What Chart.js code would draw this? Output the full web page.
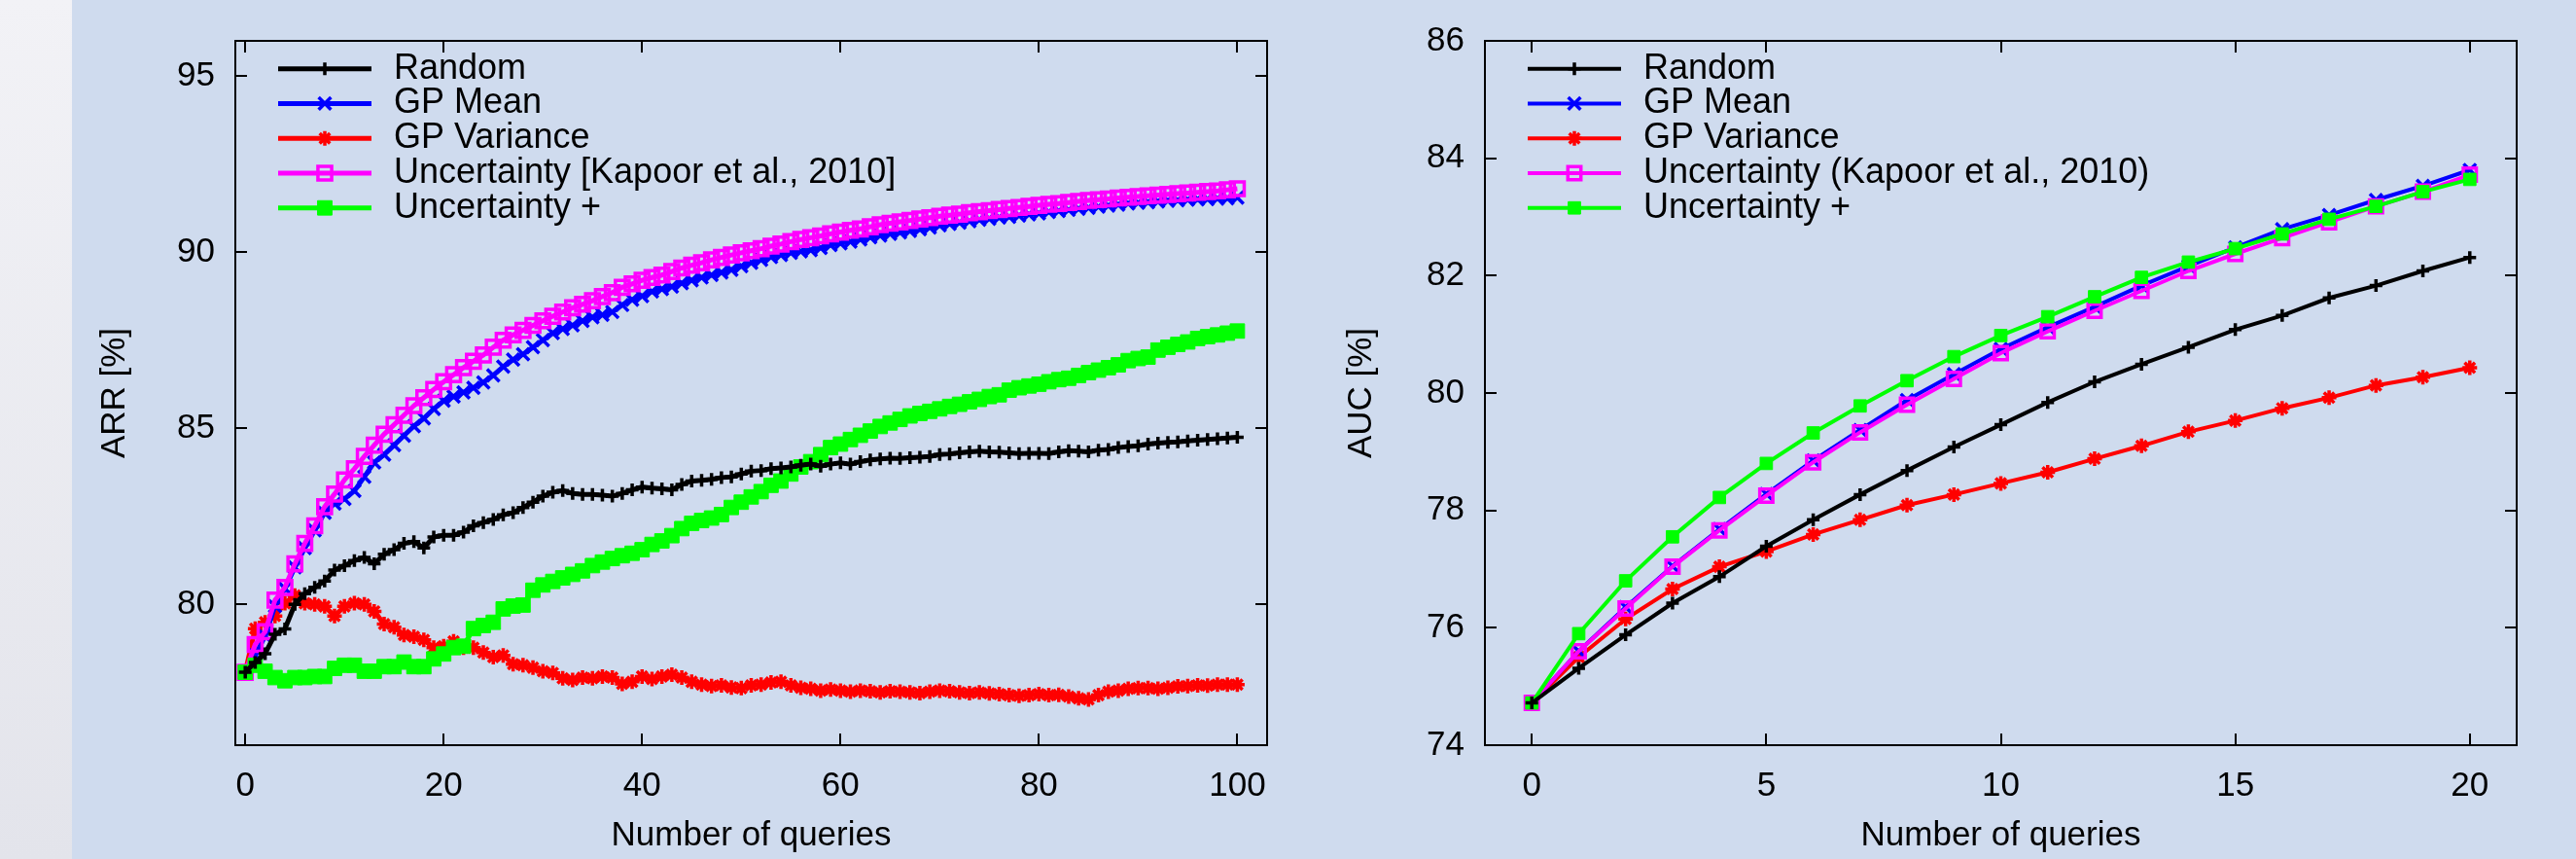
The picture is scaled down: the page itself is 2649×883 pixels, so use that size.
<!DOCTYPE html>
<html>
<head>
<meta charset="utf-8">
<script src="https://cdn.jsdelivr.net/npm/chart.js@4.4.1/dist/chart.umd.min.js"></script>
<style>
  html, body { margin: 0; padding: 0; }
  body { width: 2649px; height: 883px; background: #cfdbee; position: relative; overflow: hidden; }
  #strip { position: absolute; left: 0; top: 0; width: 74px; height: 883px; background: linear-gradient(#f2f2f6, #e3e4eb); }
  #arrChart { position: absolute; left: 74px; top: 0; }
  #aucChart { position: absolute; left: 1364px; top: 0; }
</style>
</head>
<body>
<div id="strip"></div>
<canvas id="arrChart" width="1290" height="883"></canvas>
<canvas id="aucChart" width="1285" height="883"></canvas>
<script>
// ARR panel (left): 0..100 queries
const arrQueries = [0,1,2,3,4,5,6,7,8,9,10,11,12,13,14,15,16,17,18,19,20,21,22,23,24,25,26,27,28,29,30,
  31,32,33,34,35,36,37,38,39,40,41,42,43,44,45,46,47,48,49,50,51,52,53,54,55,56,57,58,59,60,
  61,62,63,64,65,66,67,68,69,70,71,72,73,74,75,76,77,78,79,80,81,82,83,84,85,86,87,88,89,90,
  91,92,93,94,95,96,97,98,99,100];

const arrRandom = [78.07,78.35,78.6,79.15,79.3,80.0,80.3,80.48,80.66,80.97,81.1,81.24,81.33,81.15,81.42,81.55,81.73,81.78,81.6,81.91,
  81.96,81.96,82.05,82.23,82.32,82.41,82.54,82.6,82.75,82.9,83.07,83.18,83.23,83.15,83.12,83.12,83.1,83.07,83.15,83.25,
  83.33,83.3,83.28,83.25,83.4,83.5,83.52,83.55,83.6,83.62,83.7,83.78,83.8,83.85,83.87,83.9,83.95,83.98,83.92,83.98,
  84.02,83.98,84.05,84.1,84.13,84.15,84.14,84.16,84.18,84.2,84.25,84.27,84.3,84.33,84.35,84.33,84.32,84.3,84.28,84.29,
  84.29,84.28,84.33,84.36,84.35,84.33,84.38,84.4,84.45,84.48,84.5,84.55,84.58,84.6,84.61,84.64,84.66,84.68,84.7,84.72,84.74];

const arrGpMean = [78.07,78.55,79.1,79.95,80.45,81.05,81.6,82.1,82.6,82.86,82.99,83.22,83.62,84.03,84.25,84.52,84.79,85.06,85.28,85.55,
  85.78,85.9,86.02,86.15,86.3,86.5,86.75,86.95,87.1,87.3,87.5,87.7,87.82,87.92,88.05,88.15,88.22,88.3,88.5,88.65,
  88.75,88.88,88.95,89.02,89.12,89.2,89.28,89.35,89.42,89.5,89.6,89.7,89.78,89.86,89.92,89.98,90.02,90.06,90.12,90.2,
  90.25,90.3,90.36,90.42,90.47,90.52,90.56,90.6,90.65,90.7,90.76,90.8,90.84,90.88,90.92,90.95,90.98,91.0,91.04,91.07,
  91.1,91.14,91.17,91.2,91.23,91.26,91.29,91.32,91.35,91.38,91.4,91.42,91.44,91.46,91.47,91.49,91.5,91.51,91.52,91.53,91.55];

const arrGpVariance = [78.07,79.31,79.49,79.67,80.03,80.25,80.03,80.0,79.94,79.67,79.94,80.03,80.0,79.8,79.44,79.35,79.13,79.08,78.99,78.77,
  78.81,78.95,78.77,78.77,78.63,78.5,78.55,78.3,78.27,78.2,78.1,78.05,77.9,77.85,77.92,77.9,77.95,77.92,77.74,77.8,
  77.95,77.88,77.95,78.0,77.92,77.8,77.72,77.68,77.7,77.64,77.62,77.7,77.72,77.78,77.8,77.7,77.63,77.6,77.55,77.58,
  77.55,77.52,77.55,77.53,77.5,77.53,77.52,77.5,77.48,77.52,77.55,77.53,77.5,77.48,77.5,77.47,77.45,77.42,77.4,77.42,
  77.45,77.42,77.43,77.38,77.33,77.3,77.42,77.52,77.55,77.6,77.62,77.62,77.6,77.63,77.67,77.68,77.7,77.69,77.72,77.72,77.72];

const arrKapoor = [78.07,78.86,79.22,80.12,80.48,81.15,81.73,82.23,82.77,83.13,83.53,83.85,84.2,84.52,84.83,85.1,85.37,85.64,85.87,86.1,
  86.32,86.52,86.72,86.9,87.08,87.3,87.5,87.65,87.78,87.92,88.05,88.18,88.3,88.42,88.52,88.62,88.74,88.85,89.0,89.1,
  89.2,89.28,89.35,89.45,89.55,89.63,89.7,89.78,89.85,89.92,89.98,90.04,90.1,90.17,90.23,90.3,90.36,90.41,90.46,90.52,
  90.57,90.62,90.66,90.72,90.78,90.82,90.86,90.9,90.94,90.98,91.02,91.05,91.08,91.12,91.15,91.18,91.21,91.24,91.27,91.3,
  91.33,91.36,91.38,91.41,91.44,91.47,91.49,91.51,91.54,91.56,91.58,91.6,91.62,91.64,91.66,91.68,91.7,91.72,91.74,91.77,91.8];

const arrUncPlus = [78.07,78.27,78.1,77.92,77.83,77.92,77.92,77.95,77.95,78.18,78.27,78.27,78.1,78.1,78.23,78.23,78.36,78.23,78.23,78.45,
  78.59,78.77,78.81,79.31,79.4,79.49,79.87,79.95,79.98,80.4,80.55,80.65,80.75,80.85,80.95,81.1,81.2,81.3,81.38,81.45,
  81.55,81.7,81.8,81.95,82.15,82.3,82.38,82.45,82.55,82.75,82.9,83.05,83.2,83.38,83.5,83.7,83.9,84.05,84.25,84.45,
  84.55,84.68,84.8,84.92,85.05,85.15,85.25,85.35,85.42,85.48,85.55,85.62,85.68,85.75,85.82,85.9,85.95,86.08,86.15,86.2,
  86.25,86.32,86.38,86.42,86.5,86.58,86.65,86.72,86.8,86.92,86.98,87.02,87.22,87.3,87.38,87.45,87.55,87.6,87.65,87.7,87.76];

// AUC panel (right): 0..20 queries
const aucQueries = [0,1,2,3,4,5,6,7,8,9,10,11,12,13,14,15,16,17,18,19,20];
const aucRandom = [74.72,75.31,75.88,76.42,76.87,77.39,77.84,78.27,78.68,79.08,79.46,79.84,80.19,80.49,80.78,81.08,81.32,81.62,81.83,82.08,82.31];
const aucGpMean = [74.72,75.6,76.35,77.05,77.68,78.28,78.85,79.37,79.88,80.32,80.75,81.12,81.47,81.83,82.16,82.48,82.79,83.03,83.29,83.53,83.8];
const aucGpVariance = [74.72,75.5,76.15,76.66,77.04,77.3,77.59,77.84,78.09,78.27,78.46,78.65,78.88,79.1,79.34,79.53,79.74,79.92,80.13,80.27,80.43];
const aucKapoor = [74.72,75.6,76.33,77.04,77.66,78.25,78.82,79.33,79.8,80.24,80.68,81.05,81.4,81.74,82.08,82.37,82.64,82.91,83.18,83.43,83.72];
const aucUncPlus = [74.72,75.9,76.8,77.55,78.22,78.8,79.32,79.78,80.21,80.62,80.98,81.3,81.64,81.97,82.23,82.46,82.71,82.96,83.18,83.43,83.64];

const arrTicksX = [0, 20, 40, 60, 80, 100];
const arrTicksY = [80, 85, 90, 95];
const aucTicksX = [0, 5, 10, 15, 20];
const aucTicksY = [74, 76, 78, 80, 82, 84, 86];

const fontFamily = '"Liberation Sans", Arial, Helvetica, sans-serif';
const font = { family: fontFamily, size: 35 };

// gnuplot style box with inward ticks on all four sides
const gnuplotFrame = {
  id: 'gnuplotFrame',
  beforeDatasetsDraw(chart) {
    const { ctx, chartArea: a, scales } = chart;
    const len = 12;
    ctx.save();
    ctx.strokeStyle = '#000';
    ctx.lineWidth = 2;
    ctx.beginPath();
    scales.x.ticks.forEach(t => {
      const px = Math.round(scales.x.getPixelForValue(t.value));
      ctx.moveTo(px, a.bottom); ctx.lineTo(px, a.bottom - len);
      ctx.moveTo(px, a.top); ctx.lineTo(px, a.top + len);
    });
    scales.y.ticks.forEach(t => {
      const py = Math.round(scales.y.getPixelForValue(t.value));
      ctx.moveTo(a.left, py); ctx.lineTo(a.left + len, py);
      ctx.moveTo(a.right, py); ctx.lineTo(a.right - len, py);
    });
    ctx.stroke();
    ctx.strokeRect(a.left, a.top, a.right - a.left, a.bottom - a.top);
    ctx.restore();
  }
};

// key drawn inside the plot, top left, like gnuplot
const insideKey = {
  id: 'insideKey',
  afterDatasetsDraw(chart) {
    const { ctx, chartArea: a } = chart;
    ctx.save();
    ctx.font = '36px ' + fontFamily;
    ctx.textBaseline = 'middle';
    ctx.textAlign = 'left';
    chart.data.datasets.forEach((ds, i) => {
      const y = a.top + 28.7 + i * 35.75;
      ctx.strokeStyle = ds.borderColor;
      ctx.lineWidth = ds.borderWidth;
      ctx.beginPath();
      ctx.moveTo(a.left + 44, y);
      ctx.lineTo(a.left + 140, y);
      ctx.stroke();
      ctx.fillStyle = ds.pointBackgroundColor;
      ctx.lineWidth = ds.pointBorderWidth;
      Chart.helpers.drawPoint(ctx, {
        pointStyle: ds.pointStyle, radius: ds.pointRadius,
        borderWidth: ds.pointBorderWidth, rotation: 0
      }, a.left + 92, y);
      ctx.fillStyle = '#000';
      ctx.fillText(ds.label, a.left + 163, y);
    });
    ctx.restore();
  }
};

function series(label, xs, ys, color, style, radius, fill, lw, order) {
  return {
    label: label,
    data: xs.map((x, i) => ({ x: x, y: ys[i] })),
    borderColor: color,
    backgroundColor: color,
    borderWidth: lw,
    pointStyle: style,
    pointRadius: radius,
    pointBorderColor: color,
    pointBackgroundColor: fill ? color : 'rgba(0,0,0,0)',
    pointBorderWidth: style === 'rect' && fill ? 1 : 3.5,
    tension: 0,
    order: order
  };
}

function panelOptions(cfg) {
  return {
    responsive: false,
    animation: false,
    devicePixelRatio: 1,
    layout: { padding: { top: 24, right: cfg.padRight, left: 0, bottom: 0 } },
    plugins: { legend: { display: false }, tooltip: { enabled: false } },
    scales: {
      x: {
        type: 'linear', min: cfg.xMin, max: cfg.xMax,
        afterFit: s => { s.height = 117; },
        afterBuildTicks: s => { s.ticks = cfg.ticksX.map(v => ({ value: v })); },
        grid: { display: false, drawTicks: false },
        border: { display: false },
        ticks: { padding: 21, color: '#000', font: font, maxRotation: 0, autoSkip: false },
        title: { display: true, text: 'Number of queries', color: '#000', font: font, padding: { top: 0, bottom: 3 } }
      },
      y: {
        type: 'linear', min: cfg.yMin, max: cfg.yMax,
        afterFit: s => { s.width = cfg.axisWidth; },
        afterBuildTicks: s => { s.ticks = cfg.ticksY.map(v => ({ value: v })); },
        grid: { display: false, drawTicks: false },
        border: { display: false },
        ticks: { padding: 21, color: '#000', font: font, autoSkip: false },
        title: { display: true, text: cfg.yTitle, color: '#000', font: font, padding: { top: cfg.titlePad, bottom: 0 } }
      }
    }
  };
}

new Chart(document.getElementById('arrChart').getContext('2d'), {
  type: 'line',
  data: {
    datasets: [
      series('Random', arrQueries, arrRandom, '#000000', 'cross', 6.5, true, 5, 1),
      series('GP Mean', arrQueries, arrGpMean, '#0000ff', 'crossRot', 9, true, 5, 4),
      series('GP Variance', arrQueries, arrGpVariance, '#ff0000', 'star', 7.5, true, 5, 5),
      series('Uncertainty [Kapoor et al., 2010]', arrQueries, arrKapoor, '#ff00ff', 'rect', 10, false, 5, 3),
      series('Uncertainty +', arrQueries, arrUncPlus, '#00ff00', 'rect', 10.5, true, 5, 2)
    ]
  },
  options: panelOptions({
    xMin: -1, xMax: 103, yMin: 76, yMax: 96, ticksX: arrTicksX, ticksY: arrTicksY,
    padRight: 61, axisWidth: 168, yTitle: 'ARR [%]', titlePad: 23
  }),
  plugins: [gnuplotFrame, insideKey]
});

new Chart(document.getElementById('aucChart').getContext('2d'), {
  type: 'line',
  data: {
    datasets: [
      series('Random', aucQueries, aucRandom, '#000000', 'cross', 6.5, true, 4, 1),
      series('GP Mean', aucQueries, aucGpMean, '#0000ff', 'crossRot', 9, true, 4, 4),
      series('GP Variance', aucQueries, aucGpVariance, '#ff0000', 'star', 7.5, true, 4, 5),
      series('Uncertainty (Kapoor et al., 2010)', aucQueries, aucKapoor, '#ff00ff', 'rect', 9.5, false, 4, 3),
      series('Uncertainty +', aucQueries, aucUncPlus, '#00ff00', 'rect', 9, true, 4, 2)
    ]
  },
  options: panelOptions({
    xMin: -1, xMax: 21, yMin: 74, yMax: 86, ticksX: aucTicksX, ticksY: aucTicksY,
    padRight: 61, axisWidth: 163, yTitle: 'AUC [%]', titlePad: 15
  }),
  plugins: [gnuplotFrame, insideKey]
});
</script>
</body>
</html>
